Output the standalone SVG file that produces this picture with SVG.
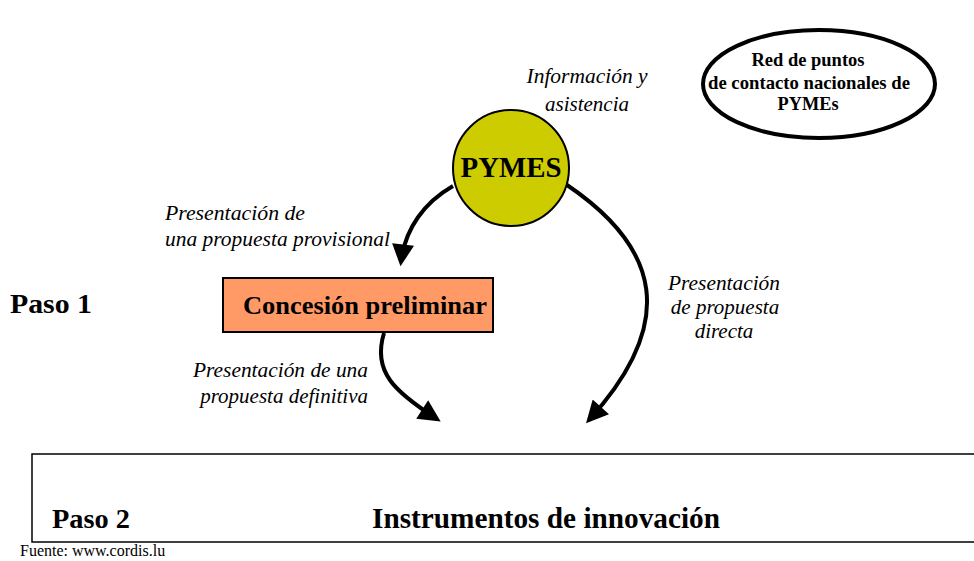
<svg xmlns="http://www.w3.org/2000/svg" width="974" height="561" viewBox="0 0 974 561">
<style>
text{font-family:"Liberation Serif","Times New Roman",serif;fill:#000}
.b{font-weight:bold}
.i{font-style:italic}
.conn{fill:none;stroke:#000;stroke-width:4}
</style>
<defs>
<marker id="ah" viewBox="0 0 10 10" refX="8" refY="5" markerWidth="24" markerHeight="22" markerUnits="userSpaceOnUse" orient="auto">
<path d="M0,0 L10,5 L0,10 z" fill="#000"/>
</marker>
</defs>
<rect width="974" height="561" fill="#fff"/>
<g id="red">
<ellipse cx="819" cy="84" rx="116" ry="54" fill="#fff" stroke="#000" stroke-width="4"/>
<text class="b" font-size="19" text-anchor="middle" x="808" y="66" textLength="113" lengthAdjust="spacingAndGlyphs">Red de puntos</text>
<text class="b" font-size="19" text-anchor="middle" x="809" y="89" textLength="202" lengthAdjust="spacingAndGlyphs">de contacto nacionales de</text>
<text class="b" font-size="19" text-anchor="middle" x="808" y="110" textLength="61" lengthAdjust="spacingAndGlyphs">PYMEs</text>
</g>
<g id="info">
<text class="i" font-size="22" text-anchor="middle" x="587" y="83" textLength="121" lengthAdjust="spacingAndGlyphs">Información y</text>
<text class="i" font-size="22" text-anchor="middle" x="587" y="111" textLength="84" lengthAdjust="spacingAndGlyphs">asistencia</text>
</g>
<g id="pymes">
<circle cx="511" cy="168" r="58" fill="#CCCC00" stroke="#000" stroke-width="2"/>
<text class="b" font-size="29" text-anchor="middle" x="511" y="177" textLength="101" lengthAdjust="spacingAndGlyphs">PYMES</text>
</g>
<g id="concesion">
<rect x="223" y="278" width="270" height="54" fill="#FF9966" stroke="#000" stroke-width="2"/>
<text class="b" font-size="26" x="243" y="314" textLength="244" lengthAdjust="spacingAndGlyphs">Concesión preliminar</text>
</g>
<g id="paso1"><text class="b" font-size="27" x="10" y="313" textLength="82" lengthAdjust="spacingAndGlyphs">Paso 1</text></g>
<g id="paso2box">
<rect x="32" y="454" width="960" height="88" fill="#fff" stroke="#000" stroke-width="1.5"/>
<text class="b" font-size="28" x="52" y="528" textLength="78" lengthAdjust="spacingAndGlyphs">Paso 2</text>
<text class="b" font-size="29" x="372" y="528" textLength="348" lengthAdjust="spacingAndGlyphs">Instrumentos de innovación</text>
</g>
<g id="labels">
<text class="i" font-size="21" x="165" y="220" textLength="140" lengthAdjust="spacingAndGlyphs">Presentación de</text>
<text class="i" font-size="21" x="165" y="246" textLength="225" lengthAdjust="spacingAndGlyphs">una propuesta provisional</text>
<text class="i" font-size="21" text-anchor="end" x="368" y="377" textLength="175" lengthAdjust="spacingAndGlyphs">Presentación de una</text>
<text class="i" font-size="21" text-anchor="end" x="368" y="403">propuesta definitiva</text>
<text class="i" font-size="21" text-anchor="middle" x="724" y="290" textLength="112" lengthAdjust="spacingAndGlyphs">Presentación</text>
<text class="i" font-size="21" text-anchor="middle" x="725" y="314">de propuesta</text>
<text class="i" font-size="21" text-anchor="middle" x="724" y="338">directa</text>
</g>
<g id="fuente"><text font-size="16" x="20" y="556">Fuente: www.cordis.lu</text></g>
<g id="connectors">
<path class="conn" d="M453 186 C425 202 405 228 401 262" marker-end="url(#ah)"/>
<path class="conn" d="M384 333 C372 372 395 392 437 419" marker-end="url(#ah)"/>
<path class="conn" d="M567 185 C660 248 678 322 589 420" marker-end="url(#ah)"/>
</g>
</svg>
